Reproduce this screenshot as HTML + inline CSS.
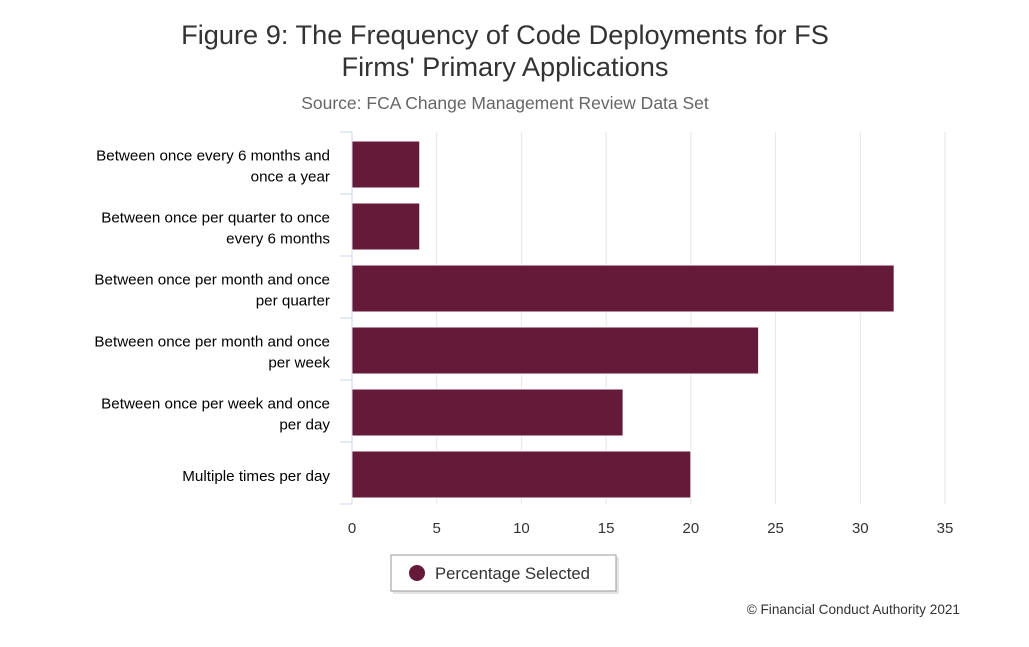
<!DOCTYPE html>
<html><head><meta charset="utf-8"><style>
body{margin:0;background:#fff;font-family:"Liberation Sans",sans-serif;}
svg text{font-family:"Liberation Sans",sans-serif;}
</style></head><body>
<svg id="c" width="1029" height="642" xmlns="http://www.w3.org/2000/svg">
<text x="505" y="44" text-anchor="middle" font-size="27.2" fill="#333">Figure 9: The Frequency of Code Deployments for FS</text>
<text x="505" y="76" text-anchor="middle" font-size="27.2" fill="#333">Firms' Primary Applications</text>
<text x="505" y="109" text-anchor="middle" font-size="17.5" fill="#666">Source: FCA Change Management Review Data Set</text>
<g id="grid"></g><g id="bars"></g><g id="axes"></g>
<g>
<rect x="393" y="557" width="226" height="37" fill="#ccc" opacity="0.5"/>
<rect x="391" y="555" width="225" height="36" fill="#fff" stroke="#999" stroke-width="1"/>
<circle cx="417" cy="573" r="8" fill="#641a38"/>
<text x="435" y="579" font-size="16.7" fill="#333">Percentage Selected</text>
</g>
<text x="960" y="614" text-anchor="end" font-size="13.6" fill="#333">© Financial Conduct Authority 2021</text>
</svg>
<script>
const categories=[["Between once every 6 months and","once a year"],["Between once per quarter to once","every 6 months"],["Between once per month and once","per quarter"],["Between once per month and once","per week"],["Between once per week and once","per day"],["Multiple times per day"]];
const values=[4,4,32,24,16,20];
const ticks=[0,5,10,15,20,25,30,35];
const NS="http://www.w3.org/2000/svg";
const x0=352,pxPer=(945-352)/35,plotTop=132,band=62;
const xs=v=>x0+v*pxPer;
function mk(t,a,p){const e=document.createElementNS(NS,t);for(const k in a)e.setAttribute(k,a[k]);p.appendChild(e);return e;}
const G=document.getElementById('grid'),B=document.getElementById('bars'),A=document.getElementById('axes');
ticks.forEach(t=>{
 if(t>0){const l=mk('line',{x1:xs(t),x2:xs(t),y1:plotTop,y2:plotTop+band*6,stroke:'#e6e6e6'},G);
 
 }
 const tx=mk('text',{x:xs(t),y:533,'text-anchor':'middle','font-size':15,fill:'#333'},A);tx.textContent=t;
 
 
});
values.forEach((v,i)=>{
 const r=mk('rect',{x:x0,y:plotTop+i*band+9,width:xs(v)-x0,height:47,fill:'#641a38',stroke:'#fff','stroke-width':1},B);
 
 
 const lines=categories[i];const cy=plotTop+i*band+band/2;
 const t=mk('text',{x:330,'text-anchor':'end','font-size':15.2,fill:'#000'},A);
 
 
 lines.forEach((s,j)=>{const ts=mk('tspan',{x:330,y:cy+8+(j-(lines.length-1)/2)*21},t);ts.textContent=s;});
});
const ax=mk('line',{x1:x0,x2:x0,y1:plotTop,y2:plotTop+band*6,stroke:'#ccd6eb'},A);


for(let i=0;i<=6;i++){const tk=mk('line',{x1:340,x2:x0,y1:plotTop+i*band,y2:plotTop+i*band,stroke:'#ccd6eb'},A);
 
 }
</script>
</body></html>
